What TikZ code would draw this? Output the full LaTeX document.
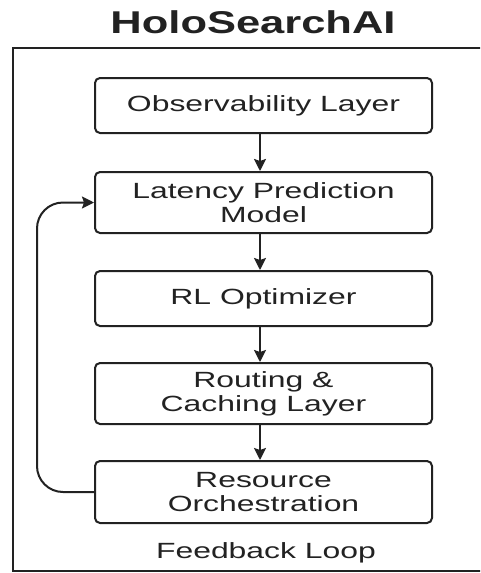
\documentclass[tikz,border=0pt]{standalone}
\usepackage{fontspec}
\setmainfont{Liberation Sans}
\newfontfamily\widefont[FakeStretch=1.45]{Liberation Sans}
\newfontfamily\titlefont[FakeStretch=1.38]{Liberation Sans}
\usetikzlibrary{arrows.meta}
\definecolor{ink}{HTML}{222222}
\tikzset{
  layerbox/.style={draw=ink, line width=2pt, rounded corners=5pt, fill=white,
    minimum width=337pt, inner sep=0pt, align=center, text=ink,
    font=\widefont\fontsize{22}{24}\selectfont},
  flowarrow/.style={draw=ink, line width=2pt, -{Stealth[length=12pt,width=12pt,inset=2pt]}},
  frameline/.style={draw=ink, line width=2pt},
  titletext/.style={font=\titlefont\bfseries\fontsize{31.5}{34}\selectfont, text=ink},
  labeltext/.style={font=\widefont\fontsize{22}{24}\selectfont, text=ink}
}
\begin{document}
\begin{tikzpicture}[x=1pt,y=-1pt]
\useasboundingbox (0,0) rectangle (480,573);
\fill[white] (0,0) rectangle (480,573);
\begin{scope}
\clip (0,0) rectangle (480,573);
\draw[frameline] (13,48) rectangle (500,571);
\end{scope}
\node[titletext] (title) at (253,22) {HoloSearchAI};
\node[layerbox, minimum height=55pt] (b1) at (263.5,105.5) {Observability Layer};
\node[layerbox, minimum height=61pt] (b2) at (263.5,202.5) {Latency Prediction\\Model};
\node[layerbox, minimum height=55pt] (b3) at (263.5,298.5) {RL Optimizer};
\node[layerbox, minimum height=61pt] (b4) at (263.5,393.5) {Routing \&\\Caching Layer};
\node[layerbox, minimum height=62pt] (b5) at (263.5,492) {Resource\\Orchestration};
\node[labeltext] (fb) at (266,553) {Feedback Loop};
\draw[flowarrow] ([xshift=-3.5pt]b1.south) -- ([xshift=-3.5pt]b2.north);
\draw[flowarrow] ([xshift=-3.5pt]b2.south) -- ([xshift=-3.5pt]b3.north);
\draw[flowarrow] ([xshift=-3.5pt]b3.south) -- ([xshift=-3.5pt]b4.north);
\draw[flowarrow] ([xshift=-3.5pt]b4.south) -- ([xshift=-3.5pt]b5.north);
\coordinate (lb) at (37,492);
\coordinate (lt) at (37,202.5);
\draw[flowarrow, rounded corners=26pt] (b5.west) -- (lb) -- (lt) -- (b2.west);
\end{tikzpicture}
\end{document}
